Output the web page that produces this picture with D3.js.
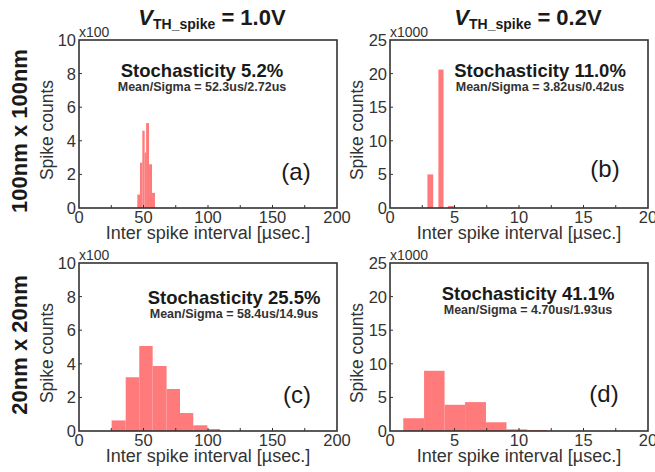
<!DOCTYPE html>
<html>
<head>
<meta charset="utf-8">
<script src="https://cdn.jsdelivr.net/npm/d3@7"></script>
<style>
  body { margin: 0; background: #fff; }
  svg { display: block; font-family: Arial, "Liberation Sans", sans-serif; }
</style>
</head>
<body>
<svg id="chart" width="655" height="472"></svg>
<script>
// histogram bins per panel: [x0, x1, count]
var binsA = [[45.2, 47.3, 0.8], [47.3, 49.1, 2.7], [49.1, 50.9, 4.6], [50.9, 52.0, 3.3],
             [52.0, 54.3, 5.05], [54.3, 56.6, 2.6], [56.6, 58.9, 0.9]];
var binsB = [[2.9, 3.35, 5.0], [3.75, 4.15, 20.6], [4.5, 4.95, 0.3]];
var binsC = [[25.3, 36.2, 0.63], [36.2, 46.7, 3.2], [46.7, 57.1, 5.06], [57.1, 67.9, 3.87],
             [67.9, 78.3, 2.5], [78.3, 88.6, 1.07], [88.6, 99.5, 0.34], [99.5, 109.3, 0.12]];
var binsD = [[1.03, 2.64, 1.9], [2.64, 4.23, 8.96], [4.23, 5.82, 3.9], [5.82, 7.44, 4.3],
             [7.44, 9.03, 1.3], [9.03, 10.64, 0.25], [10.64, 12.18, 0.15]];

var xMax = [200, 20, 200, 20];
var yMax = [10, 25, 10, 25];
var xTickStep = [25, 2.5, 25, 2.5];
var xLabelStep = [50, 5, 50, 5];
var yTickStep = [2, 5, 2, 5];
var yMultiplier = ["x100", "x1000", "x100", "x1000"];
var stochText = ["Stochasticity 5.2%", "Stochasticity 11.0%", "Stochasticity 25.5%", "Stochasticity 41.1%"];
var meanText = ["Mean/Sigma = 52.3us/2.72us", "Mean/Sigma = 3.82us/0.42us",
                "Mean/Sigma = 58.4us/14.9us", "Mean/Sigma = 4.70us/1.93us"];
var panelTags = ["(a)", "(b)", "(c)", "(d)"];
var colTitles = ["1.0V", "0.2V"];
var rowTitles = ["100nm x 100nm", "20nm x 20nm"];
var allBins = [binsA, binsB, binsC, binsD];

var svg = d3.select("#chart");

// frame boxes of the four plots
var boxes = [
  {x: 79, y: 40, w: 258, h: 168, sx: 202, sy: 77, tx: 296, ty: 180},
  {x: 390, y: 40, w: 258, h: 168, sx: 540, sy: 77, tx: 605, ty: 177},
  {x: 79, y: 263, w: 258, h: 168, sx: 234, sy: 304, tx: 297, ty: 403},
  {x: 390, y: 263, w: 258, h: 168, sx: 528, sy: 300, tx: 604, ty: 402}
];

var barColor = "#ff7b7b";
var ink = "#1a1a1a";

boxes.forEach(function(b, i) {
  var g = svg.append("g").attr("transform", "translate(" + b.x + "," + b.y + ")");

  var x = d3.scaleLinear().domain([0, xMax[i]]).range([0, b.w]);
  var y = d3.scaleLinear().domain([0, yMax[i]]).range([b.h, 0]);

  g.selectAll("rect.bar")
    .data(allBins[i])
    .enter()
    .append("rect")
    .attr("class", "bar")
    .attr("x", function(d) { return x(d[0]); })
    .attr("width", function(d) { return x(d[1]) - x(d[0]); })
    .attr("y", function(d) { return y(d[2]); })
    .attr("height", function(d) { return b.h - y(d[2]); })
    .attr("fill", barColor);

  // inward ticks
  var xt = d3.range(0, xMax[i] + 0.001, xTickStep[i]);
  g.selectAll("line.xt").data(xt.slice(1, -1)).enter().append("line")
    .attr("x1", function(d) { return x(d); }).attr("x2", function(d) { return x(d); })
    .attr("y1", b.h).attr("y2", b.h - 3)
    .attr("stroke", "#333").attr("stroke-width", 1);
  var yt = d3.range(0, yMax[i] + 0.001, yTickStep[i]);
  g.selectAll("line.yt").data(yt.slice(1, -1)).enter().append("line")
    .attr("x1", 0).attr("x2", 3)
    .attr("y1", function(d) { return y(d); }).attr("y2", function(d) { return y(d); })
    .attr("stroke", "#333").attr("stroke-width", 1);

  g.append("rect")
    .attr("width", b.w).attr("height", b.h)
    .attr("fill", "none").attr("stroke", "#333").attr("stroke-width", 1.6);

  // tick labels
  g.selectAll("text.xl").data(d3.range(0, xMax[i] + 0.001, xLabelStep[i])).enter().append("text")
    .attr("x", function(d) { return x(d); }).attr("y", b.h + 15)
    .attr("text-anchor", "middle").attr("font-size", 16.5).attr("fill", "#333")
    .text(function(d) { return d; });
  g.selectAll("text.yl").data(yt).enter().append("text")
    .attr("x", -3).attr("y", function(d) { return y(d) + 6; })
    .attr("text-anchor", "end").attr("font-size", 16.5).attr("fill", "#333")
    .text(function(d) { return d; });

  g.append("text").attr("x", 0).attr("y", -3)
    .attr("font-size", 14).attr("fill", "#333").text(yMultiplier[i]);

  g.append("text")
    .attr("x", b.w / 2).attr("y", b.h + 31)
    .attr("text-anchor", "middle").attr("font-size", 18).attr("fill", "#333")
    .text("Inter spike interval [\u00b5sec.]");

  g.append("text")
    .attr("transform", "translate(" + (i % 2 ? -27 : -26) + "," + (b.h / 2 + 6) + ") rotate(-90)")
    .attr("text-anchor", "middle").attr("font-size", 17.5).attr("fill", "#333")
    .text("Spike counts");

  svg.append("text").attr("x", b.sx).attr("y", b.sy)
    .attr("text-anchor", "middle").attr("font-size", 18.5).attr("font-weight", "bold").attr("fill", ink)
    .text(stochText[i]);
  svg.append("text").attr("x", b.sx).attr("y", b.sy + 14)
    .attr("text-anchor", "middle").attr("font-size", 12.5).attr("font-weight", "bold").attr("fill", "#333")
    .text(meanText[i]);

  svg.append("text").attr("x", b.tx).attr("y", b.ty)
    .attr("text-anchor", "middle").attr("font-size", 24).attr("fill", ink)
    .text(panelTags[i]);
});

// column headers
[212, 528].forEach(function(cx, j) {
  var t = svg.append("text").attr("x", cx).attr("y", 25)
    .attr("text-anchor", "middle").attr("font-weight", "bold").attr("fill", ink);
  t.append("tspan").attr("font-size", 22).attr("font-style", "italic").text("V");
  t.append("tspan").attr("font-size", 14).attr("dy", 4).text("TH_spike");
  t.append("tspan").attr("font-size", 22).attr("dy", -4).text(" = " + colTitles[j]);
});

// row headers
[131, 345].forEach(function(cy, j) {
  svg.append("text")
    .attr("transform", "translate(27," + cy + ") rotate(-90)")
    .attr("text-anchor", "middle").attr("font-size", 22).attr("font-weight", "bold").attr("fill", ink)
    .text(rowTitles[j]);
});
</script>
</body>
</html>
